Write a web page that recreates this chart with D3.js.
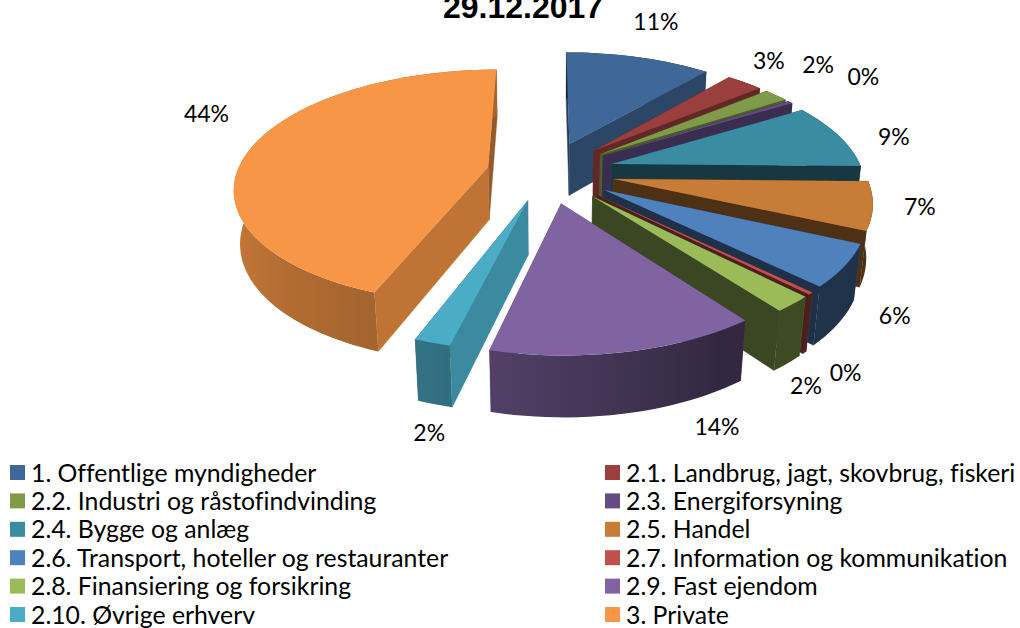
<!DOCTYPE html>
<html>
<head>
<meta charset="utf-8">
<script src="https://cdn.jsdelivr.net/npm/d3@7"></script>
<style>
html, body { margin: 0; padding: 0; background: #fff; overflow: hidden; }
svg { display: block; }
text { fill: #000; font-family: Lato, sans-serif; font-variant-ligatures: none; }
</style>
</head>
<body>
<svg width="1020" height="628"></svg>
<script>
var categories = ['1. Offentlige myndigheder', '2.1. Landbrug, jagt, skovbrug, fiskeri', '2.2. Industri og råstofindvinding',
    '2.3. Energiforsyning', '2.4. Bygge og anlæg', '2.5. Handel', '2.6. Transport, hoteller og restauranter',
    '2.7. Information og kommunikation', '2.8. Finansiering og forsikring', '2.9. Fast ejendom', '2.10. Øvrige erhverv', '3. Private'];
var shares = [11.2, 2.8, 1.9, 0.4, 9.0, 6.5, 5.6, 0.3, 2.1, 14.0, 1.9, 44.3];
var colors = ['#3F6797', '#9A3F3D', '#7F9A48', '#634B84', '#3A8CA3', '#C77C37', '#4F81BD', '#C0504D', '#9BBB59', '#8064A2', '#4BACC6', '#F79646'];
var explosion = [.27, .27, .27, .27, .27, .27, .27, .27, .27, .27, .25, .24];
var labelShift = [[17, -35], [24, -22], [42, -30], [73, -25], [55, 1], [47, 1], [50, 50], [35, 79], [13, 82], [90, 75], [-3, 90], [-45, -34]];

var svg = d3.select('svg');
var defs = svg.append('defs');

// perspective of the pie plane
var cx = 547, cy = 172, rx = 251, ry = 115, persp = .164, depth = 54, bottomShrink = .02;

var project = (x, y, bottom) => {
    var w = 1 + persp * y + (bottom ? bottomShrink : 0);
    return [cx + rx * x / w, cy + (-ry * y + (bottom ? depth : 0)) / w];
};

// lighting
var rimLight = d3.scaleLinear().domain([90, 150, 195, 270]).range([.38, .4, .65, .85]).clamp(true);
var wallLight = d3.scaleLinear().domain([90, 105, 130, 148, 181, 230]).range([.85, .8, .68, .6, .4, .38]).clamp(true);
var shade = (color, k) => {
    var c = d3.rgb(color);
    return d3.rgb(c.r * k, c.g * k, c.b * k).formatHex();
};

var deg = a => a * 180 / Math.PI;
var rad = a => a * Math.PI / 180;
var line = d3.line();

var slices = d3.pie().sort(null).value(d => d)(shares).map((d, i) => {
    var mid = (d.startAngle + d.endAngle) / 2;
    return {
        i: i, a0: d.startAngle, a1: d.endAngle, mid: mid,
        ox: explosion[i] * Math.sin(mid), oy: explosion[i] * Math.cos(mid)
    };
});

// back to front
var order = slices.slice().sort((a, b) => d3.descending(Math.cos(a.mid), Math.cos(b.mid)));

var rimPoint = (s, a, bottom) => project(s.ox + Math.sin(a), s.oy + Math.cos(a), bottom);

var drawWall = (g, s, a, normal) => {
    var col = shade(colors[s.i], normal > 90 && normal < 270 ? wallLight(normal) : .6);
    g.append('path')
        .attr('d', line([project(s.ox, s.oy), rimPoint(s, a), rimPoint(s, a, true), project(s.ox, s.oy, true)]) + 'Z')
        .attr('fill', col)
        .attr('stroke', col)
        .attr('stroke-width', .4);
};

// horizontal gradient along the part of the rim that faces us
var rimFill = s => {
    var from = Math.max(s.a0, rad(90)), to = Math.min(s.a1, rad(270));
    if (to <= from) return shade(colors[s.i], rimLight(deg(s.mid)));
    var x1 = rimPoint(s, from)[0], x2 = rimPoint(s, to)[0];
    var grad = defs.append('linearGradient')
        .attr('id', 'rim' + s.i)
        .attr('gradientUnits', 'userSpaceOnUse')
        .attr('x1', x1).attr('x2', x2)
        .attr('y1', 0).attr('y2', 0);
    d3.range(9).forEach(k => {
        var a = from + (to - from) * k / 8;
        grad.append('stop')
            .attr('offset', (rimPoint(s, a)[0] - x1) / (x2 - x1))
            .attr('stop-color', shade(colors[s.i], rimLight(deg(a))));
    });
    return 'url(#rim' + s.i + ')';
};

order.forEach(s => {
    var g = svg.append('g');
    var startNormal = deg(s.a0) - 90;
    var endNormal = deg(s.a1) + 90;
    var facing = n => Math.cos(rad(n)) < 0;

    if (!facing(startNormal)) drawWall(g, s, s.a0, (startNormal + 360) % 360);
    if (!facing(endNormal)) drawWall(g, s, s.a1, endNormal);

    var steps = d3.range(s.a0, s.a1, Math.PI / 90).concat([s.a1]);
    var rim = steps.map(a => rimPoint(s, a, false)).concat(steps.slice().reverse().map(a => rimPoint(s, a, true)));
    g.append('path')
        .attr('d', line(rim) + 'Z')
        .attr('fill', rimFill(s));

    if (facing(startNormal)) drawWall(g, s, s.a0, startNormal);
    if (facing(endNormal)) drawWall(g, s, s.a1, endNormal);

    // top face
    var top = [project(s.ox, s.oy)].concat(steps.map(a => rimPoint(s, a)));
    g.append('path')
        .attr('d', line(top) + 'Z')
        .attr('fill', colors[s.i]);
});

// percent labels
slices.forEach(s => {
    var e = 1 + explosion[s.i];
    var p = project(e * Math.sin(s.mid), e * Math.cos(s.mid));
    svg.append('text')
        .attr('x', p[0] + labelShift[s.i][0])
        .attr('y', p[1] + labelShift[s.i][1])
        .attr('dy', '.35em')
        .attr('text-anchor', 'middle')
        .attr('font-size', 23)
        .text(Math.round(shares[s.i]) + '%');
});

// title, runs off the top of the page as in the source
svg.append('text')
    .attr('x', 523)
    .attr('y', 18)
    .attr('text-anchor', 'middle')
    .attr('font-size', 32)
    .attr('font-weight', 'bold')
    .style('font-family', '"Liberation Sans", Arial, sans-serif')
    .text('29.12.2017');

// legend, two columns filled row by row
var rowScale = d3.scalePoint().domain(d3.range(6)).range([473, 615]);
var colScale = d3.scalePoint().domain([0, 1]).range([10, 605]);

var legend = svg.selectAll('.legend')
    .data(categories)
    .enter().append('g')
    .attr('class', 'legend')
    .attr('transform', (d, i) => 'translate(' + [colScale(i % 2), rowScale(Math.floor(i / 2))] + ')');

legend.append('rect')
    .attr('y', -8)
    .attr('width', 15)
    .attr('height', 15)
    .attr('fill', (d, i) => colors[i]);

legend.append('text')
    .attr('x', 21)
    .attr('dy', '.35em')
    .attr('font-size', 24.8)
    .text(d => d);
</script>
</body>
</html>
